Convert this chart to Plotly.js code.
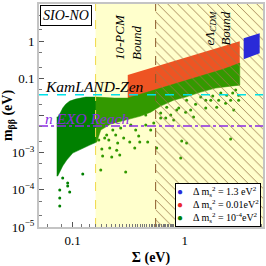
<!DOCTYPE html>
<html>
<head>
<meta charset="utf-8">
<script src="https://cdn.plot.ly/plotly-3.0.1.min.js"></script>
<style>html,body{margin:0;padding:0;background:#fff;}#chart{width:266px;height:266px;}</style>
</head>
<body>
<div id="chart"></div>
<script>
// ---- axis extents ----
const xRange = [0.05, 5];
const yRange = [1e-5, 10];

// ---- bounds / experimental lines ----
const pcmBound = 0.16;
const lcdmBound = 0.55;
const kamlandZen = 0.036;
const nexoReach = 0.0052;

// ---- series names ----
const seriesNames = ["Δ m<sub>s</sub><sup>2</sup> = 1.3 eV<sup>2</sup>",
                     "Δ m<sub>s</sub><sup>2</sup> = 0.01eV<sup>2</sup>",
                     "Δ m<sub>s</sub><sup>2</sup> = 10<sup>-4</sup>eV<sup>2</sup>"];
const seriesColors = ["#2a2ad8", "#ea2a2c", "#008000"];

// ---- Δm² = 1.3 eV² region (outline) ----
const blueX = [3.36, 4.67, 4.67, 3.36];
const blueY = [1.20, 1.64, 0.475, 0.328];

// ---- Δm² = 0.01 eV² region (outline) ----
const redX = [0.310, 3.10, 3.10, 0.310];
const redY = [0.122, 1.0, 0.213, 0.0276];

// ---- Δm² = 1e-4 eV² dense region (outline) ----
const greenX = [0.0720, 0.0735, 0.0781, 0.0814, 0.0866, 0.094, 0.106, 0.131, 0.164, 0.235, 0.310, 0.405, 0.529, 0.797, 1.39, 2.23, 3.10,
                3.10, 2.57, 1.89, 1.39, 1.02, 0.797, 0.610, 0.497, 0.405, 0.297, 0.218, 0.178, 0.164, 0.142, 0.118, 0.100, 0.0884, 0.0814, 0.0766, 0.0735, 0.0720];
const greenY = [0.0091, 0.00906, 0.0123, 0.0158, 0.0202, 0.0244, 0.0276, 0.0313, 0.0313, 0.0294, 0.0294, 0.0376, 0.0482, 0.0698, 0.115, 0.177, 0.257,
                0.0656, 0.0617, 0.0546, 0.0426, 0.0313, 0.0259, 0.0179, 0.0123, 0.00964, 0.00752, 0.00587, 0.00406, 0.00193, 0.0016, 0.00125, 0.000975, 0.000632, 0.000437, 0.0003, 0.000235, 0.000235];

// ---- Δm² = 1e-4 eV² sparse points ----
const dotsX = [0.0766,0.0766,0.094,0.0902,0.0766,0.0902,0.123,0.0814,0.297,0.178,0.263,0.223,0.185,0.182,0.214,0.247,0.252,0.323,0.397,0.467,0.358,0.94,1.04,0.562,0.921,2.57,0.388,0.449,0.61,0.691,0.849,1.04,1.39,1.71,2.10,2.57,2.85,2.74,1.93,1.20,0.797,0.529,0.201,0.228,0.268,0.330,0.171,0.193,0.677,1.02,1.54,2.32,3.03,
               0.610,0.750,0.884,1.13,1.25,1.54,1.78,2.01,2.37,2.68,3.03,0.449,0.497,0.365,0.242,0.210,0.285];
const dotsY = [3.67e-5,6.03e-5,8.73e-5,1.26e-4,9.9e-5,1.52e-4,2.66e-4,2.07e-4,3.0e-4,3.4e-4,8.61e-4,7.62e-4,8.11e-4,1.25e-3,1.33e-3,1.17e-3,1.81e-3,1.93e-3,1.93e-3,1.93e-3,1.33e-3,2.05e-3,1.81e-3,1.33e-3,7.16e-4,2.32e-3,2.79e-3,0.0103,0.0116,0.0168,0.0140,0.0259,0.0313,0.0259,0.0400,0.0259,0.0482,0.0140,0.0168,9.06e-3,7.52e-3,6.25e-3,2.97e-3,4.06e-3,4.58e-3,5.52e-3,2.18e-3,2.47e-3,8.51e-3,0.0123,0.0158,0.0215,0.0353,
               8.51e-3,0.0103,0.0158,0.0140,0.0202,0.0259,0.0333,0.0259,0.0353,0.0400,0.0259,5.52e-3,4.06e-3,4.06e-3,2.97e-3,2.18e-3,2.47e-3];

// ---- tick labels ----
const yTickVals = [1e-5, 1e-4, 1e-3, 1e-2, 0.1, 1, 10];
const yTickText = ["10<sup>−5</sup>", "10<sup>−4</sup>", "10<sup>−3</sup>", " ", "0.1", "1", "10"];
const xTickVals = [0.1, 1];
const xTickText = ["0.1", "1"];

const serif = "Liberation Serif, Times New Roman, serif";

const traces = [
  {x: redX, y: redY, mode: "lines", fill: "toself", fillcolor: seriesColors[1], line: {width: 0, color: seriesColors[1]}, hoverinfo: "skip", showlegend: false},
  {x: greenX, y: greenY, mode: "lines", fill: "toself", fillcolor: seriesColors[2], line: {width: 0.5, color: seriesColors[2]}, hoverinfo: "skip", showlegend: false},
  {x: dotsX, y: dotsY, mode: "markers", marker: {size: 3, color: seriesColors[2]}, showlegend: false},
  // 10-PCM shaded region
  {x: [pcmBound, xRange[1], xRange[1], pcmBound], y: [yRange[0], yRange[0], yRange[1], yRange[1]], mode: "lines", fill: "toself",
   fillcolor: "rgba(255,255,0,0.2)", line: {width: 0}, hoverinfo: "skip", showlegend: false},
  // eΛCDM hatched region
  {x: [lcdmBound, xRange[1], xRange[1], lcdmBound], y: [yRange[0], yRange[0], yRange[1], yRange[1]], mode: "lines", fill: "toself",
   fillcolor: "rgba(0,0,0,0)", fillpattern: {shape: "\\", fgcolor: "#9c7a4a", bgcolor: "rgba(0,0,0,0)", size: 7, solidity: 0.12},
   line: {width: 0}, hoverinfo: "skip", showlegend: false},
  {x: blueX, y: blueY, mode: "lines", fill: "toself", fillcolor: seriesColors[0], line: {width: 0, color: seriesColors[0]}, hoverinfo: "skip", showlegend: false},
  // bound lines
  {x: [pcmBound, pcmBound], y: yRange, mode: "lines", line: {color: "#f0d848", width: 1, dash: "dash"}, hoverinfo: "skip", showlegend: false},
  {x: [lcdmBound, lcdmBound], y: yRange, mode: "lines", line: {color: "#8b5a2b", width: 1, dash: "dash"}, hoverinfo: "skip", showlegend: false},
  {x: xRange, y: [kamlandZen, kamlandZen], mode: "lines", line: {color: "#00e0e8", width: 1.5, dash: "dash"}, hoverinfo: "skip", showlegend: false},
  {x: xRange, y: [nexoReach, nexoReach], mode: "lines", line: {color: "#8a2be2", width: 1.5, dash: "dashdot"}, hoverinfo: "skip", showlegend: false}
];

const legendText = seriesNames.map((n, i) =>
  "<span style='color:" + seriesColors[i] + "'>●</span>&nbsp;&nbsp;&nbsp;&nbsp;" + n).join("<br>");

const layout = {
  width: 266, height: 266,
  margin: {l: 39, r: 3, t: 4, b: 39},
  paper_bgcolor: "#fff", plot_bgcolor: "#fff",
  showlegend: false,
  font: {family: serif, size: 13, color: "#000"},
  xaxis: {
    type: "log", range: [Math.log10(xRange[0]), Math.log10(xRange[1])],
    tickvals: xTickVals, ticktext: xTickText,
    ticks: "inside", ticklen: 5, tickcolor: "#555", tickfont: {family: serif, size: 13},
    minor: {ticks: "inside", ticklen: 3, tickcolor: "#777", showgrid: false},
    showgrid: false, zeroline: false,
    showline: true, linecolor: "#c4c4c4", linewidth: 2, mirror: true,
    title: {text: "<b>Σ (eV)</b>", font: {family: serif, size: 14}, standoff: 6}
  },
  yaxis: {
    type: "log", range: [Math.log10(yRange[0]), Math.log10(yRange[1])],
    tickvals: yTickVals, ticktext: yTickText,
    ticks: "inside", ticklen: 5, tickcolor: "#555", tickfont: {family: serif, size: 13},
    minor: {ticks: "inside", ticklen: 3, tickcolor: "#777", showgrid: false},
    showgrid: false, zeroline: false,
    showline: true, linecolor: "#c4c4c4", linewidth: 2, mirror: true,
    title: {text: "<b>m<sub>ββ</sub> (eV)</b>", font: {family: serif, size: 14}, standoff: 2}
  },
  annotations: [
    {xref: "paper", yref: "paper", x: 0.005, y: 0.995, xanchor: "left", yanchor: "top", showarrow: false,
     text: "<i>SIO-NO</i>", font: {family: serif, size: 14}, bordercolor: "#000", borderwidth: 1, borderpad: 2, bgcolor: "#fff"},
    {xref: "paper", yref: "paper", x: 0.40, y: 0.85, xanchor: "center", yanchor: "middle", showarrow: false, textangle: -90, align: "left",
     text: "<i>10-PCM<br>Bound</i>", font: {family: serif, size: 13}},
    {xref: "paper", yref: "paper", x: 0.795, y: 0.89, xanchor: "center", yanchor: "middle", showarrow: false, textangle: -90, align: "center",
     text: "<i>eΛ<sub>CDM</sub><br>Bound</i>", font: {family: serif, size: 13}},
    {xref: "paper", yref: "paper", x: 0.02, y: 0.63, xanchor: "left", yanchor: "middle", showarrow: false,
     text: "<i>KamLAND-Zen</i>", font: {family: serif, size: 15.5, color: "#000"}},
    {xref: "paper", yref: "paper", x: 0.02, y: 0.486, xanchor: "left", yanchor: "middle", showarrow: false,
     text: "<i>n EXO Reach</i>", font: {family: serif, size: 15.5, color: "#8a2be2"}},
    {xref: "paper", yref: "paper", x: 0.991, y: 0, xanchor: "right", yanchor: "bottom", showarrow: false, align: "left",
     text: legendText, font: {family: serif, size: 10}, bordercolor: "#000", borderwidth: 1, borderpad: 1, bgcolor: "#fff"}
  ]
};

Plotly.newPlot("chart", traces, layout, {staticPlot: true, displayModeBar: false});
</script>
</body>
</html>
